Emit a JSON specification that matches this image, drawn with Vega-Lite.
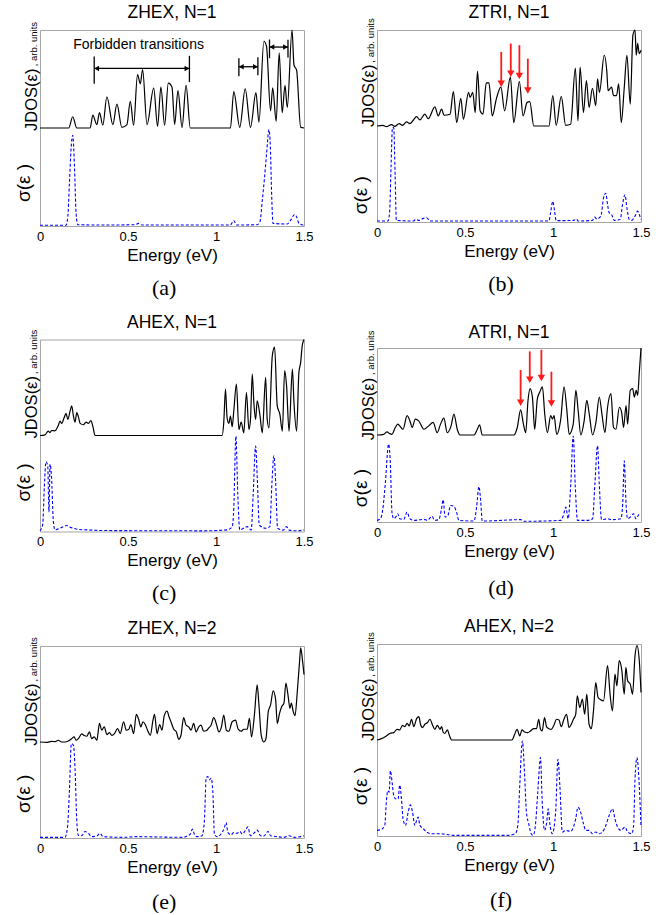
{
"$schema": "https://vega.github.io/schema/vega-lite/v6.json",
"padding": {"left": 14, "top": 3, "right": 0, "bottom": 0},
"background": "white",
"datasets": {
"aJ": [{"e":0,"v":1},{"e":0.152,"v":1},{"e":0.163,"v":1},{"e":0.186,"v":1.115},{"e":0.209,"v":1},{"e":0.285,"v":1},{"e":0.3,"v":1.132},{"e":0.323,"v":1.035},{"e":0.338,"v":1.156},{"e":0.357,"v":1.028},{"e":0.38,"v":1.319},{"e":0.414,"v":1.035},{"e":0.437,"v":1.243},{"e":0.465,"v":1.007},{"e":0.494,"v":1.035},{"e":0.513,"v":1.271},{"e":0.532,"v":1.028},{"e":0.554,"v":1.545},{"e":0.57,"v":1.451},{"e":0.583,"v":1.597},{"e":0.608,"v":1.035},{"e":0.646,"v":1.406},{"e":0.668,"v":1.017},{"e":0.687,"v":1.417},{"e":0.708,"v":1.028},{"e":0.729,"v":1.458},{"e":0.75,"v":1.417},{"e":0.765,"v":1.035},{"e":0.784,"v":1.382},{"e":0.807,"v":1.007},{"e":0.83,"v":1.434},{"e":0.854,"v":1},{"e":1.082,"v":1},{"e":1.101,"v":1.372},{"e":1.135,"v":1.007},{"e":1.166,"v":1.399},{"e":1.196,"v":1.007},{"e":1.227,"v":1.361},{"e":1.244,"v":1.059},{"e":1.272,"v":1.885},{"e":1.287,"v":1.833},{"e":1.31,"v":1.174},{"e":1.322,"v":1.41},{"e":1.342,"v":1.069},{"e":1.359,"v":1.767},{"e":1.376,"v":1.156},{"e":1.392,"v":1.434},{"e":1.405,"v":1.208},{"e":1.432,"v":2},{"e":1.443,"v":1.642},{"e":1.458,"v":1.59},{"e":1.481,"v":1.007},{"e":1.5,"v":1}],
"as": [{"e":0,"v":0.007},{"e":0.148,"v":0.007},{"e":0.158,"v":0.094},{"e":0.167,"v":0.43},{"e":0.177,"v":0.8},{"e":0.186,"v":0.926},{"e":0.196,"v":0.6},{"e":0.205,"v":0.13},{"e":0.215,"v":0.013},{"e":0.361,"v":0.01},{"e":0.541,"v":0.013},{"e":0.56,"v":0.027},{"e":0.579,"v":0.01},{"e":1.082,"v":0.01},{"e":1.101,"v":0.054},{"e":1.117,"v":0.01},{"e":1.234,"v":0.013},{"e":1.25,"v":0.044},{"e":1.263,"v":0.26},{"e":1.276,"v":0.5},{"e":1.287,"v":0.73},{"e":1.301,"v":0.983},{"e":1.309,"v":0.8},{"e":1.316,"v":0.33},{"e":1.324,"v":0.027},{"e":1.405,"v":0.02},{"e":1.424,"v":0.06},{"e":1.447,"v":0.117},{"e":1.458,"v":0.094},{"e":1.471,"v":0.027},{"e":1.5,"v":0.007}],
"bJ": [{"e":0,"v":1},{"e":0.034,"v":1.007},{"e":0.053,"v":0.993},{"e":0.082,"v":1.014},{"e":0.101,"v":0.996},{"e":0.126,"v":1.025},{"e":0.145,"v":1.007},{"e":0.168,"v":1.042},{"e":0.187,"v":1.025},{"e":0.206,"v":1.06},{"e":0.225,"v":1.098},{"e":0.244,"v":1.063},{"e":0.272,"v":1.123},{"e":0.291,"v":1.077},{"e":0.329,"v":1.2},{"e":0.348,"v":1.105},{"e":0.367,"v":1.175},{"e":0.381,"v":1.112},{"e":0.415,"v":1.123},{"e":0.434,"v":1.358},{"e":0.453,"v":1.035},{"e":0.476,"v":1.288},{"e":0.491,"v":1.07},{"e":0.52,"v":1.351},{"e":0.529,"v":1.298},{"e":0.544,"v":1.351},{"e":0.558,"v":1.14},{"e":0.571,"v":1.568},{"e":0.586,"v":1.158},{"e":0.602,"v":1.123},{"e":0.621,"v":1.449},{"e":0.636,"v":1.449},{"e":0.655,"v":1.105},{"e":0.678,"v":1.281},{"e":0.704,"v":1.404},{"e":0.725,"v":1.158},{"e":0.758,"v":1.509},{"e":0.777,"v":1.035},{"e":0.809,"v":1.463},{"e":0.83,"v":1.105},{"e":0.853,"v":1.246},{"e":0.868,"v":1.253},{"e":0.891,"v":1},{"e":0.977,"v":1},{"e":0.999,"v":1.316},{"e":1.018,"v":1.007},{"e":1.047,"v":1.309},{"e":1.072,"v":1.007},{"e":1.1,"v":1.018},{"e":1.127,"v":1.604},{"e":1.142,"v":1.053},{"e":1.154,"v":1.614},{"e":1.173,"v":1.14},{"e":1.19,"v":1.474},{"e":1.205,"v":1.193},{"e":1.224,"v":1.393},{"e":1.243,"v":1.211},{"e":1.253,"v":1.491},{"e":1.264,"v":1.351},{"e":1.291,"v":1.737},{"e":1.306,"v":1.561},{"e":1.313,"v":1.368},{"e":1.333,"v":1.404},{"e":1.344,"v":1.316},{"e":1.361,"v":1.316},{"e":1.373,"v":1.439},{"e":1.388,"v":1.035},{"e":1.405,"v":1.404},{"e":1.42,"v":1.737},{"e":1.439,"v":1.228},{"e":1.454,"v":1.947},{"e":1.466,"v":2},{"e":1.473,"v":1.737},{"e":1.481,"v":1.86},{"e":1.49,"v":1.754},{"e":1.5,"v":1.789}],
"bs": [{"e":0,"v":0.01},{"e":0.063,"v":0.01},{"e":0.072,"v":0.113},{"e":0.08,"v":0.59},{"e":0.088,"v":0.983},{"e":0.095,"v":0.983},{"e":0.103,"v":0.488},{"e":0.11,"v":0.017},{"e":0.206,"v":0.01},{"e":0.221,"v":0.027},{"e":0.24,"v":0.017},{"e":0.263,"v":0.038},{"e":0.282,"v":0.044},{"e":0.301,"v":0.01},{"e":0.977,"v":0.01},{"e":0.986,"v":0.096},{"e":0.999,"v":0.215},{"e":1.009,"v":0.113},{"e":1.018,"v":0.014},{"e":1.119,"v":0.017},{"e":1.133,"v":0.031},{"e":1.142,"v":0.01},{"e":1.224,"v":0.017},{"e":1.237,"v":0.051},{"e":1.249,"v":0.031},{"e":1.272,"v":0.061},{"e":1.287,"v":0.249},{"e":1.3,"v":0.3},{"e":1.31,"v":0.181},{"e":1.319,"v":0.096},{"e":1.333,"v":0.078},{"e":1.348,"v":0.017},{"e":1.382,"v":0.027},{"e":1.395,"v":0.181},{"e":1.409,"v":0.283},{"e":1.42,"v":0.147},{"e":1.433,"v":0.027},{"e":1.447,"v":0.017},{"e":1.466,"v":0.061},{"e":1.481,"v":0.113},{"e":1.49,"v":0.078},{"e":1.5,"v":0.027}],
"cJ": [{"e":0,"v":1},{"e":0.028,"v":1.007},{"e":0.047,"v":1.045},{"e":0.057,"v":1.031},{"e":0.066,"v":1.052},{"e":0.085,"v":1.049},{"e":0.104,"v":1.105},{"e":0.114,"v":1.15},{"e":0.123,"v":1.126},{"e":0.137,"v":1.185},{"e":0.148,"v":1.231},{"e":0.158,"v":1.168},{"e":0.171,"v":1.255},{"e":0.18,"v":1.308},{"e":0.19,"v":1.203},{"e":0.199,"v":1.14},{"e":0.209,"v":1.238},{"e":0.218,"v":1.196},{"e":0.228,"v":1.126},{"e":0.247,"v":1.112},{"e":0.262,"v":1.14},{"e":0.275,"v":1.126},{"e":0.289,"v":1.154},{"e":0.3,"v":1.098},{"e":0.313,"v":1},{"e":1.035,"v":1},{"e":1.044,"v":1.133},{"e":1.054,"v":1.483},{"e":1.063,"v":1.185},{"e":1.073,"v":1.126},{"e":1.082,"v":1.203},{"e":1.092,"v":1.091},{"e":1.101,"v":1.255},{"e":1.116,"v":1.535},{"e":1.13,"v":1.063},{"e":1.143,"v":1.14},{"e":1.158,"v":1.028},{"e":1.173,"v":1.448},{"e":1.187,"v":1.063},{"e":1.196,"v":1.168},{"e":1.206,"v":1.64},{"e":1.215,"v":1.343},{"e":1.225,"v":1.168},{"e":1.234,"v":1.36},{"e":1.249,"v":1.22},{"e":1.263,"v":1.028},{"e":1.282,"v":1.605},{"e":1.291,"v":1.168},{"e":1.301,"v":1.08},{"e":1.32,"v":1.832},{"e":1.333,"v":1.92},{"e":1.348,"v":1.308},{"e":1.363,"v":1.22},{"e":1.377,"v":1.045},{"e":1.39,"v":1.675},{"e":1.401,"v":1.517},{"e":1.415,"v":1.045},{"e":1.434,"v":1.692},{"e":1.443,"v":1.343},{"e":1.458,"v":1.045},{"e":1.471,"v":1.657},{"e":1.481,"v":1.762},{"e":1.49,"v":1.937},{"e":1.5,"v":2}],
"cs": [{"e":0,"v":0.007},{"e":0.015,"v":0.068},{"e":0.025,"v":0.479},{"e":0.034,"v":0.726},{"e":0.044,"v":0.685},{"e":0.051,"v":0.205},{"e":0.057,"v":0.702},{"e":0.065,"v":0.582},{"e":0.076,"v":0.103},{"e":0.085,"v":0.017},{"e":0.114,"v":0.034},{"e":0.133,"v":0.051},{"e":0.152,"v":0.062},{"e":0.171,"v":0.045},{"e":0.19,"v":0.034},{"e":0.218,"v":0.021},{"e":0.266,"v":0.017},{"e":0.361,"v":0.01},{"e":0.93,"v":0.007},{"e":1.063,"v":0.017},{"e":1.092,"v":0.051},{"e":1.101,"v":0.24},{"e":1.113,"v":0.993},{"e":1.124,"v":0.377},{"e":1.135,"v":0.017},{"e":1.177,"v":0.051},{"e":1.2,"v":0.017},{"e":1.211,"v":0.377},{"e":1.225,"v":0.89},{"e":1.234,"v":0.582},{"e":1.246,"v":0.068},{"e":1.282,"v":0.034},{"e":1.306,"v":0.051},{"e":1.318,"v":0.514},{"e":1.329,"v":0.788},{"e":1.339,"v":0.514},{"e":1.35,"v":0.034},{"e":1.382,"v":0.014},{"e":1.401,"v":0.051},{"e":1.416,"v":0.014},{"e":1.462,"v":0.007},{"e":1.5,"v":0.017}],
"dJ": [{"e":0,"v":1},{"e":0.038,"v":1.008},{"e":0.057,"v":1.035},{"e":0.072,"v":1.016},{"e":0.085,"v":1.008},{"e":0.104,"v":1.086},{"e":0.118,"v":1.125},{"e":0.129,"v":1.105},{"e":0.148,"v":1.066},{"e":0.171,"v":1.222},{"e":0.19,"v":1.144},{"e":0.199,"v":1.086},{"e":0.218,"v":1.183},{"e":0.237,"v":1.163},{"e":0.266,"v":1.066},{"e":0.294,"v":1.105},{"e":0.319,"v":1.144},{"e":0.342,"v":1.027},{"e":0.361,"v":1.125},{"e":0.38,"v":1.195},{"e":0.399,"v":1.027},{"e":0.421,"v":1.105},{"e":0.437,"v":1.241},{"e":0.456,"v":1.066},{"e":0.471,"v":1},{"e":0.551,"v":1},{"e":0.57,"v":1.066},{"e":0.583,"v":1.117},{"e":0.598,"v":1},{"e":0.778,"v":1},{"e":0.797,"v":1.086},{"e":0.816,"v":1.288},{"e":0.832,"v":1.125},{"e":0.845,"v":1.027},{"e":0.858,"v":1.397},{"e":0.87,"v":1.533},{"e":0.883,"v":1.436},{"e":0.896,"v":1.066},{"e":0.911,"v":1.416},{"e":0.925,"v":1.494},{"e":0.94,"v":1.553},{"e":0.953,"v":1.241},{"e":0.968,"v":1.027},{"e":0.987,"v":1.222},{"e":0.997,"v":1.183},{"e":1.006,"v":1.222},{"e":1.021,"v":1.008},{"e":1.044,"v":1.183},{"e":1.063,"v":1.553},{"e":1.078,"v":1.3},{"e":1.092,"v":1.008},{"e":1.115,"v":1.125},{"e":1.13,"v":1.514},{"e":1.143,"v":1.28},{"e":1.158,"v":1},{"e":1.177,"v":1.163},{"e":1.192,"v":1.397},{"e":1.206,"v":1.241},{"e":1.225,"v":1},{"e":1.244,"v":1.144},{"e":1.263,"v":1.436},{"e":1.278,"v":1.241},{"e":1.295,"v":1.027},{"e":1.31,"v":1.319},{"e":1.329,"v":1.475},{"e":1.344,"v":1.086},{"e":1.358,"v":1.066},{"e":1.377,"v":1.319},{"e":1.39,"v":1.261},{"e":1.401,"v":1.086},{"e":1.415,"v":1.339},{"e":1.424,"v":1.125},{"e":1.439,"v":1.514},{"e":1.453,"v":1.533},{"e":1.462,"v":1.436},{"e":1.473,"v":1.514},{"e":1.481,"v":1.455},{"e":1.49,"v":1.708},{"e":1.5,"v":2}],
"ds": [{"e":0,"v":0.019},{"e":0.019,"v":0.038},{"e":0.032,"v":0.133},{"e":0.047,"v":0.437},{"e":0.066,"v":0.894},{"e":0.076,"v":0.665},{"e":0.085,"v":0.114},{"e":0.095,"v":0.038},{"e":0.11,"v":0.068},{"e":0.118,"v":0.095},{"e":0.129,"v":0.038},{"e":0.152,"v":0.03},{"e":0.171,"v":0.114},{"e":0.186,"v":0.038},{"e":0.209,"v":0.019},{"e":0.266,"v":0.03},{"e":0.285,"v":0.019},{"e":0.313,"v":0.065},{"e":0.327,"v":0.019},{"e":0.351,"v":0.027},{"e":0.365,"v":0.133},{"e":0.376,"v":0.255},{"e":0.387,"v":0.057},{"e":0.403,"v":0.076},{"e":0.418,"v":0.19},{"e":0.437,"v":0.179},{"e":0.452,"v":0.114},{"e":0.465,"v":0.019},{"e":0.551,"v":0.011},{"e":0.566,"v":0.171},{"e":0.579,"v":0.407},{"e":0.589,"v":0.247},{"e":0.598,"v":0.011},{"e":0.816,"v":0.027},{"e":0.835,"v":0.008},{"e":1.044,"v":0.019},{"e":1.059,"v":0.076},{"e":1.073,"v":0.171},{"e":1.086,"v":0.038},{"e":1.101,"v":0.437},{"e":1.115,"v":0.989},{"e":1.126,"v":0.437},{"e":1.139,"v":0.019},{"e":1.196,"v":0.019},{"e":1.225,"v":0.038},{"e":1.238,"v":0.437},{"e":1.253,"v":0.875},{"e":1.263,"v":0.437},{"e":1.276,"v":0.027},{"e":1.31,"v":0.038},{"e":1.333,"v":0.027},{"e":1.386,"v":0.038},{"e":1.396,"v":0.209},{"e":1.405,"v":0.703},{"e":1.415,"v":0.209},{"e":1.424,"v":0.038},{"e":1.443,"v":0.065},{"e":1.458,"v":0.095},{"e":1.471,"v":0.038},{"e":1.49,"v":0.087},{"e":1.5,"v":0.076}],
"eJ": [{"e":0,"v":1},{"e":0.038,"v":0.996},{"e":0.066,"v":1.007},{"e":0.085,"v":1.004},{"e":0.104,"v":1.018},{"e":0.123,"v":1},{"e":0.142,"v":1},{"e":0.161,"v":1.011},{"e":0.18,"v":1.035},{"e":0.194,"v":1.053},{"e":0.205,"v":1.018},{"e":0.218,"v":1.035},{"e":0.237,"v":1.084},{"e":0.251,"v":1.067},{"e":0.266,"v":1.06},{"e":0.281,"v":1.105},{"e":0.294,"v":1.035},{"e":0.308,"v":1.053},{"e":0.323,"v":1.018},{"e":0.338,"v":1.193},{"e":0.351,"v":1.123},{"e":0.365,"v":1.158},{"e":0.38,"v":1.077},{"e":0.395,"v":1.098},{"e":0.408,"v":1.07},{"e":0.423,"v":1.088},{"e":0.441,"v":1.14},{"e":0.456,"v":1.088},{"e":0.475,"v":1.211},{"e":0.49,"v":1.123},{"e":0.505,"v":1.133},{"e":0.516,"v":1.182},{"e":0.532,"v":1.088},{"e":0.547,"v":1.288},{"e":0.56,"v":1.239},{"e":0.573,"v":1.158},{"e":0.585,"v":1.211},{"e":0.598,"v":1.182},{"e":0.611,"v":1.123},{"e":0.627,"v":1.07},{"e":0.642,"v":1.228},{"e":0.651,"v":1.288},{"e":0.665,"v":1.088},{"e":0.68,"v":1.182},{"e":0.693,"v":1.123},{"e":0.706,"v":1.274},{"e":0.722,"v":1.323},{"e":0.733,"v":1.263},{"e":0.744,"v":1.211},{"e":0.76,"v":1.133},{"e":0.775,"v":1.105},{"e":0.788,"v":1.028},{"e":0.801,"v":1.07},{"e":0.816,"v":1.253},{"e":0.83,"v":1.175},{"e":0.845,"v":1.158},{"e":0.858,"v":1.123},{"e":0.873,"v":1.193},{"e":0.887,"v":1.105},{"e":0.902,"v":1.158},{"e":0.915,"v":1.175},{"e":0.93,"v":1.112},{"e":0.946,"v":1.119},{"e":0.959,"v":1.147},{"e":0.972,"v":1.175},{"e":0.987,"v":1.253},{"e":1.003,"v":1.182},{"e":1.016,"v":1.105},{"e":1.031,"v":1.158},{"e":1.044,"v":1.281},{"e":1.059,"v":1.123},{"e":1.073,"v":1.112},{"e":1.092,"v":1.211},{"e":1.111,"v":1.228},{"e":1.126,"v":1.133},{"e":1.143,"v":1.112},{"e":1.158,"v":1.133},{"e":1.177,"v":1.133},{"e":1.19,"v":1.246},{"e":1.202,"v":1.053},{"e":1.219,"v":1.298},{"e":1.234,"v":1.596},{"e":1.244,"v":1.386},{"e":1.257,"v":1.07},{"e":1.272,"v":1},{"e":1.284,"v":1.035},{"e":1.297,"v":1.316},{"e":1.31,"v":1.386},{"e":1.325,"v":1.533},{"e":1.339,"v":1.439},{"e":1.348,"v":1.193},{"e":1.361,"v":1.298},{"e":1.373,"v":1.368},{"e":1.386,"v":1.404},{"e":1.397,"v":1.614},{"e":1.409,"v":1.491},{"e":1.42,"v":1.351},{"e":1.428,"v":1.404},{"e":1.439,"v":1.316},{"e":1.449,"v":1.274},{"e":1.462,"v":1.526},{"e":1.475,"v":1.842},{"e":1.481,"v":1.982},{"e":1.492,"v":1.842},{"e":1.5,"v":1.702}],
"es": [{"e":0,"v":0.007},{"e":0.142,"v":0.007},{"e":0.156,"v":0.11},{"e":0.167,"v":0.486},{"e":0.178,"v":0.983},{"e":0.19,"v":0.966},{"e":0.199,"v":0.726},{"e":0.209,"v":0.178},{"e":0.218,"v":0.027},{"e":0.237,"v":0.024},{"e":0.256,"v":0.068},{"e":0.275,"v":0.048},{"e":0.294,"v":0.014},{"e":0.323,"v":0.021},{"e":0.342,"v":0.048},{"e":0.357,"v":0.014},{"e":0.475,"v":0.007},{"e":0.551,"v":0.014},{"e":0.816,"v":0.007},{"e":0.839,"v":0.024},{"e":0.854,"v":0.041},{"e":0.866,"v":0.092},{"e":0.877,"v":0.041},{"e":0.892,"v":0.014},{"e":0.921,"v":0.024},{"e":0.934,"v":0.178},{"e":0.944,"v":0.623},{"e":0.953,"v":0.64},{"e":0.963,"v":0.606},{"e":0.972,"v":0.623},{"e":0.982,"v":0.486},{"e":0.991,"v":0.041},{"e":1.006,"v":0.014},{"e":1.035,"v":0.058},{"e":1.048,"v":0.11},{"e":1.058,"v":0.161},{"e":1.067,"v":0.058},{"e":1.086,"v":0.034},{"e":1.101,"v":0.058},{"e":1.12,"v":0.048},{"e":1.135,"v":0.068},{"e":1.149,"v":0.041},{"e":1.168,"v":0.082},{"e":1.181,"v":0.116},{"e":1.196,"v":0.024},{"e":1.215,"v":0.048},{"e":1.234,"v":0.082},{"e":1.253,"v":0.024},{"e":1.272,"v":0.021},{"e":1.295,"v":0.068},{"e":1.31,"v":0.024},{"e":1.348,"v":0.014},{"e":1.386,"v":0.007},{"e":1.415,"v":0.024},{"e":1.443,"v":0.007},{"e":1.481,"v":0.014},{"e":1.5,"v":0.024}],
"fJ": [{"e":0,"v":1},{"e":0.025,"v":1.014},{"e":0.053,"v":1.042},{"e":0.076,"v":1.07},{"e":0.095,"v":1.077},{"e":0.114,"v":1.111},{"e":0.129,"v":1.105},{"e":0.145,"v":1.153},{"e":0.158,"v":1.139},{"e":0.171,"v":1.174},{"e":0.183,"v":1.146},{"e":0.196,"v":1.216},{"e":0.209,"v":1.139},{"e":0.225,"v":1.223},{"e":0.238,"v":1.244},{"e":0.247,"v":1.164},{"e":0.259,"v":1.129},{"e":0.272,"v":1.164},{"e":0.287,"v":1.181},{"e":0.301,"v":1.216},{"e":0.316,"v":1.153},{"e":0.329,"v":1.111},{"e":0.343,"v":1.153},{"e":0.358,"v":1.111},{"e":0.367,"v":1.139},{"e":0.377,"v":1.077},{"e":0.386,"v":1.07},{"e":0.4,"v":1.105},{"e":0.411,"v":1.049},{"e":0.425,"v":1},{"e":0.767,"v":1},{"e":0.78,"v":1.049},{"e":0.796,"v":1.111},{"e":0.811,"v":1.042},{"e":0.824,"v":1.105},{"e":0.838,"v":1.084},{"e":0.857,"v":1.077},{"e":0.872,"v":1.094},{"e":0.891,"v":1.118},{"e":0.906,"v":1.118},{"e":0.919,"v":1.216},{"e":0.929,"v":1.111},{"e":0.938,"v":1.094},{"e":0.952,"v":1.233},{"e":0.963,"v":1.139},{"e":0.977,"v":1.118},{"e":0.99,"v":1.111},{"e":1.005,"v":1.153},{"e":1.02,"v":1.216},{"e":1.034,"v":1.209},{"e":1.047,"v":1.139},{"e":1.062,"v":1.216},{"e":1.077,"v":1.268},{"e":1.091,"v":1.129},{"e":1.104,"v":1.164},{"e":1.116,"v":1.216},{"e":1.129,"v":1.268},{"e":1.138,"v":1.46},{"e":1.152,"v":1.338},{"e":1.167,"v":1.425},{"e":1.18,"v":1.268},{"e":1.192,"v":1.477},{"e":1.205,"v":1.164},{"e":1.218,"v":1.118},{"e":1.23,"v":1.303},{"e":1.243,"v":1.599},{"e":1.256,"v":1.443},{"e":1.272,"v":1.418},{"e":1.287,"v":1.408},{"e":1.31,"v":1.774},{"e":1.325,"v":1.46},{"e":1.338,"v":1.303},{"e":1.352,"v":1.686},{"e":1.363,"v":1.564},{"e":1.376,"v":1.826},{"e":1.39,"v":1.739},{"e":1.405,"v":1.477},{"e":1.414,"v":1.756},{"e":1.424,"v":1.617},{"e":1.439,"v":1.582},{"e":1.452,"v":1.477},{"e":1.466,"v":1.878},{"e":1.477,"v":1.983},{"e":1.491,"v":1.808},{"e":1.5,"v":1.495}],
"fs": [{"e":0,"v":0.059},{"e":0.025,"v":0.069},{"e":0.044,"v":0.11},{"e":0.053,"v":0.352},{"e":0.061,"v":0.472},{"e":0.069,"v":0.455},{"e":0.076,"v":0.679},{"e":0.088,"v":0.524},{"e":0.095,"v":0.421},{"e":0.107,"v":0.386},{"e":0.12,"v":0.386},{"e":0.129,"v":0.531},{"e":0.139,"v":0.386},{"e":0.148,"v":0.179},{"e":0.162,"v":0.11},{"e":0.177,"v":0.248},{"e":0.19,"v":0.324},{"e":0.202,"v":0.248},{"e":0.215,"v":0.11},{"e":0.225,"v":0.162},{"e":0.234,"v":0.197},{"e":0.244,"v":0.11},{"e":0.263,"v":0.076},{"e":0.282,"v":0.041},{"e":0.31,"v":0.024},{"e":0.358,"v":0.024},{"e":0.434,"v":0.007},{"e":0.739,"v":0.007},{"e":0.786,"v":0.024},{"e":0.8,"v":0.11},{"e":0.811,"v":0.524},{"e":0.826,"v":0.99},{"e":0.838,"v":0.662},{"e":0.849,"v":0.248},{"e":0.862,"v":0.128},{"e":0.876,"v":0.024},{"e":0.887,"v":0.007},{"e":0.9,"v":0.11},{"e":0.914,"v":0.472},{"e":0.929,"v":0.817},{"e":0.938,"v":0.386},{"e":0.952,"v":0.059},{"e":0.963,"v":0.128},{"e":0.973,"v":0.283},{"e":0.982,"v":0.128},{"e":0.996,"v":0.024},{"e":1.015,"v":0.248},{"e":1.028,"v":0.8},{"e":1.039,"v":0.524},{"e":1.053,"v":0.041},{"e":1.072,"v":0.059},{"e":1.1,"v":0.048},{"e":1.116,"v":0.093},{"e":1.129,"v":0.179},{"e":1.142,"v":0.3},{"e":1.157,"v":0.248},{"e":1.173,"v":0.128},{"e":1.186,"v":0.059},{"e":1.205,"v":0.059},{"e":1.224,"v":0.024},{"e":1.243,"v":0.041},{"e":1.262,"v":0.024},{"e":1.281,"v":0.041},{"e":1.3,"v":0.11},{"e":1.319,"v":0.214},{"e":1.338,"v":0.283},{"e":1.352,"v":0.179},{"e":1.367,"v":0.093},{"e":1.386,"v":0.059},{"e":1.409,"v":0.093},{"e":1.424,"v":0.041},{"e":1.447,"v":0.024},{"e":1.458,"v":0.11},{"e":1.466,"v":0.593},{"e":1.477,"v":0.817},{"e":1.491,"v":0.49},{"e":1.5,"v":0.093}],
"aLines": [{"e":0.308,"e2":0.849,"v":1.608,"v2":1.608},{"e":1.13,"e2":1.238,"v":1.625,"v2":1.625},{"e":1.304,"e2":1.409,"v":1.826,"v2":1.826},{"e":0.308,"e2":0.308,"v":1.451,"v2":1.729},{"e":0.849,"e2":0.849,"v":1.469,"v2":1.736},{"e":1.13,"e2":1.13,"v":1.528,"v2":1.712},{"e":1.238,"e2":1.238,"v":1.538,"v2":1.722},{"e":1.304,"e2":1.304,"v":1.712,"v2":1.903},{"e":1.409,"e2":1.409,"v":1.72,"v2":1.9}],
"aHeads": [{"e":0.322,"v":1.608,"d":"L"},{"e":0.835,"v":1.608,"d":"R"},{"e":1.144,"v":1.625,"d":"L"},{"e":1.224,"v":1.625,"d":"R"},{"e":1.318,"v":1.826,"d":"L"},{"e":1.395,"v":1.826,"d":"R"}],
"bArrows": [{"e":0.706,"v":1.772,"v2":1.45,"h":1.44},{"e":0.76,"v":1.86,"v2":1.555,"h":1.545},{"e":0.809,"v":1.842,"v2":1.53,"h":1.52},{"e":0.857,"v":1.702,"v2":1.38,"h":1.37}],
"dArrows": [{"e":0.816,"v":1.747,"v2":1.38,"h":1.37},{"e":0.868,"v":1.961,"v2":1.645,"h":1.635},{"e":0.934,"v":1.98,"v2":1.665,"h":1.655},{"e":0.991,"v":1.728,"v2":1.372,"h":1.362}]
},
"hconcat": [
 {"vconcat": [
  {"title": {"text": "(a)", "orient": "bottom", "anchor": "middle", "font": "Liberation Serif", "fontSize": 22, "offset": 14},
   "vconcat": [{
    "width": 264, "height": 196, "title": {"text": "ZHEX, N=1", "offset": 0},
    "encoding": {"x": {"type": "quantitative", "scale": {"domain": [0, 1.5]}, "axis": {"values": [0, 0.5, 1, 1.5], "labelExpr": "'' + datum.value"}, "title": "Energy (eV)"},
                 "y": {"type": "quantitative", "scale": {"domain": [0, 2]}, "axis": null}},
    "layer": [
     {"data": {"name": "aJ"}, "mark": {"type": "line", "color": "black", "strokeWidth": 1.2, "interpolate": "monotone"}, "encoding": {"x": {"field": "e"}, "y": {"field": "v"}}},
     {"data": {"name": "as"}, "mark": {"type": "line", "color": "#0000ff", "strokeWidth": 1.1, "strokeDash": [3, 2], "interpolate": "monotone"}, "encoding": {"x": {"field": "e"}, "y": {"field": "v"}}},
     {"data": {"name": "aLines"}, "mark": {"type": "rule", "color": "black", "strokeWidth": 1.3}, "encoding": {"x": {"field": "e"}, "y": {"field": "v"}, "x2": {"field": "e2"}, "y2": {"field": "v2"}}},
     {"data": {"name": "aHeads"}, "mark": {"type": "point", "filled": true, "opacity": 1, "color": "black", "size": 30}, "encoding": {"x": {"field": "e"}, "y": {"field": "v"}, "shape": {"field": "d", "type": "nominal", "scale": {"domain": ["L", "R"], "range": ["triangle-left", "triangle-right"]}, "legend": null}}},
     {"data": {"values": [{}]}, "mark": {"type": "text", "text": "Forbidden transitions", "fontSize": 14, "align": "center", "baseline": "middle"}, "encoding": {"x": {"datum": 0.56}, "y": {"datum": 1.85}}},
     {"data": {"values": [{}]}, "mark": {"type": "text", "text": "JDOS(ε)", "angle": 270, "align": "left", "baseline": "alphabetic", "fontSize": 16.5}, "encoding": {"x": {"datum": -0.017}, "y": {"datum": 0.97}}},
     {"data": {"values": [{}]}, "mark": {"type": "text", "text": ", arb. units", "angle": 270, "align": "left", "baseline": "alphabetic", "fontSize": 9.5}, "encoding": {"x": {"datum": -0.017}, "y": {"datum": 1.63}}},
     {"data": {"values": [{}]}, "mark": {"type": "text", "text": "σ(ε )", "angle": 270, "align": "center", "baseline": "middle", "fontSize": 19}, "encoding": {"x": {"datum": -0.09}, "y": {"datum": 0.44}}}
    ]}]},
  {"title": {"text": "(c)", "orient": "bottom", "anchor": "middle", "font": "Liberation Serif", "fontSize": 22, "offset": 14},
   "vconcat": [{
    "width": 264, "height": 192, "title": {"text": "AHEX, N=1", "offset": -2},
    "encoding": {"x": {"type": "quantitative", "scale": {"domain": [0, 1.5]}, "axis": {"values": [0, 0.5, 1, 1.5], "labelExpr": "'' + datum.value"}, "title": "Energy (eV)"},
                 "y": {"type": "quantitative", "scale": {"domain": [0, 2]}, "axis": null}},
    "layer": [
     {"data": {"name": "cJ"}, "mark": {"type": "line", "color": "black", "strokeWidth": 1.2, "interpolate": "monotone"}, "encoding": {"x": {"field": "e"}, "y": {"field": "v"}}},
     {"data": {"name": "cs"}, "mark": {"type": "line", "color": "#0000ff", "strokeWidth": 1.1, "strokeDash": [3, 2], "interpolate": "monotone"}, "encoding": {"x": {"field": "e"}, "y": {"field": "v"}}},
     {"data": {"values": [{}]}, "mark": {"type": "text", "text": "JDOS(ε)", "angle": 270, "align": "left", "baseline": "alphabetic", "fontSize": 16.5}, "encoding": {"x": {"datum": -0.017}, "y": {"datum": 0.97}}},
     {"data": {"values": [{}]}, "mark": {"type": "text", "text": ", arb. units", "angle": 270, "align": "left", "baseline": "alphabetic", "fontSize": 9.5}, "encoding": {"x": {"datum": -0.017}, "y": {"datum": 1.64}}},
     {"data": {"values": [{}]}, "mark": {"type": "text", "text": "σ(ε )", "angle": 270, "align": "center", "baseline": "middle", "fontSize": 19}, "encoding": {"x": {"datum": -0.09}, "y": {"datum": 0.51}}}
    ]}]},
  {"title": {"text": "(e)", "orient": "bottom", "anchor": "middle", "font": "Liberation Serif", "fontSize": 22, "offset": 16},
   "vconcat": [{
    "width": 264, "height": 192, "title": {"text": "ZHEX, N=2", "offset": 0},
    "encoding": {"x": {"type": "quantitative", "scale": {"domain": [0, 1.5]}, "axis": {"values": [0, 0.5, 1, 1.5], "labelExpr": "'' + datum.value"}, "title": "Energy (eV)"},
                 "y": {"type": "quantitative", "scale": {"domain": [0, 2]}, "axis": null}},
    "layer": [
     {"data": {"name": "eJ"}, "mark": {"type": "line", "color": "black", "strokeWidth": 1.2, "interpolate": "monotone"}, "encoding": {"x": {"field": "e"}, "y": {"field": "v"}}},
     {"data": {"name": "es"}, "mark": {"type": "line", "color": "#0000ff", "strokeWidth": 1.1, "strokeDash": [3, 2], "interpolate": "monotone"}, "encoding": {"x": {"field": "e"}, "y": {"field": "v"}}},
     {"data": {"values": [{}]}, "mark": {"type": "text", "text": "JDOS(ε)", "angle": 270, "align": "left", "baseline": "alphabetic", "fontSize": 16.5}, "encoding": {"x": {"datum": -0.017}, "y": {"datum": 0.96}}},
     {"data": {"values": [{}]}, "mark": {"type": "text", "text": ", arb. units", "angle": 270, "align": "left", "baseline": "alphabetic", "fontSize": 9.5}, "encoding": {"x": {"datum": -0.017}, "y": {"datum": 1.63}}},
     {"data": {"values": [{}]}, "mark": {"type": "text", "text": "σ(ε )", "angle": 270, "align": "center", "baseline": "middle", "fontSize": 19}, "encoding": {"x": {"datum": -0.09}, "y": {"datum": 0.46}}}
    ]}]}
 ], "spacing": 14.5},
 {"vconcat": [
  {"title": {"text": "(b)", "orient": "bottom", "anchor": "middle", "font": "Liberation Serif", "fontSize": 22, "offset": 14},
   "vconcat": [{
    "width": 264, "height": 192, "title": {"text": "ZTRI, N=1", "offset": -3},
    "encoding": {"x": {"type": "quantitative", "scale": {"domain": [0, 1.5]}, "axis": {"values": [0, 0.5, 1, 1.5], "labelExpr": "'' + datum.value"}, "title": "Energy (eV)"},
                 "y": {"type": "quantitative", "scale": {"domain": [0, 2]}, "axis": null}},
    "layer": [
     {"data": {"name": "bJ"}, "mark": {"type": "line", "color": "black", "strokeWidth": 1.2, "interpolate": "monotone"}, "encoding": {"x": {"field": "e"}, "y": {"field": "v"}}},
     {"data": {"name": "bs"}, "mark": {"type": "line", "color": "#0000ff", "strokeWidth": 1.1, "strokeDash": [3, 2], "interpolate": "monotone"}, "encoding": {"x": {"field": "e"}, "y": {"field": "v"}}},
     {"data": {"name": "bArrows"}, "mark": {"type": "rule", "color": "#ff1a1a", "strokeWidth": 1.8}, "encoding": {"x": {"field": "e"}, "y": {"field": "v"}, "y2": {"field": "v2"}}},
     {"data": {"name": "bArrows"}, "mark": {"type": "point", "shape": "triangle-down", "filled": true, "opacity": 1, "color": "#ff1a1a", "size": 55}, "encoding": {"x": {"field": "e"}, "y": {"field": "h"}}},
     {"data": {"values": [{}]}, "mark": {"type": "text", "text": "JDOS(ε)", "angle": 270, "align": "left", "baseline": "alphabetic", "fontSize": 16.5}, "encoding": {"x": {"datum": -0.017}, "y": {"datum": 0.99}}},
     {"data": {"values": [{}]}, "mark": {"type": "text", "text": ", arb. units", "angle": 270, "align": "left", "baseline": "alphabetic", "fontSize": 9.5}, "encoding": {"x": {"datum": -0.017}, "y": {"datum": 1.66}}},
     {"data": {"values": [{}]}, "mark": {"type": "text", "text": "σ(ε )", "angle": 270, "align": "center", "baseline": "middle", "fontSize": 19}, "encoding": {"x": {"datum": -0.09}, "y": {"datum": 0.28}}}
    ]}]},
  {"vconcat": [
   {"title": {"text": "(d)", "orient": "bottom", "anchor": "middle", "font": "Liberation Serif", "fontSize": 22, "offset": 18},
    "vconcat": [{
     "width": 264, "height": 174, "title": {"text": "ATRI, N=1", "offset": -10.6},
     "encoding": {"x": {"type": "quantitative", "scale": {"domain": [0, 1.5]}, "axis": {"values": [0, 0.5, 1, 1.5], "labelExpr": "'' + datum.value"}, "title": "Energy (eV)"},
                  "y": {"type": "quantitative", "scale": {"domain": [0, 2]}, "axis": null}},
     "layer": [
      {"data": {"name": "dJ"}, "mark": {"type": "line", "color": "black", "strokeWidth": 1.2, "interpolate": "monotone"}, "encoding": {"x": {"field": "e"}, "y": {"field": "v"}}},
      {"data": {"name": "ds"}, "mark": {"type": "line", "color": "#0000ff", "strokeWidth": 1.1, "strokeDash": [3, 2], "interpolate": "monotone"}, "encoding": {"x": {"field": "e"}, "y": {"field": "v"}}},
      {"data": {"name": "dArrows"}, "mark": {"type": "rule", "color": "#ff1a1a", "strokeWidth": 1.8}, "encoding": {"x": {"field": "e"}, "y": {"field": "v"}, "y2": {"field": "v2"}}},
      {"data": {"name": "dArrows"}, "mark": {"type": "point", "shape": "triangle-down", "filled": true, "opacity": 1, "color": "#ff1a1a", "size": 55}, "encoding": {"x": {"field": "e"}, "y": {"field": "h"}}},
      {"data": {"values": [{}]}, "mark": {"type": "text", "text": "JDOS(ε)", "angle": 270, "align": "left", "baseline": "alphabetic", "fontSize": 16.5}, "encoding": {"x": {"datum": -0.017}, "y": {"datum": 0.94}}},
      {"data": {"values": [{}]}, "mark": {"type": "text", "text": ", arb. units", "angle": 270, "align": "left", "baseline": "alphabetic", "fontSize": 9.5}, "encoding": {"x": {"datum": -0.017}, "y": {"datum": 1.69}}},
      {"data": {"values": [{}]}, "mark": {"type": "text", "text": "σ(ε )", "angle": 270, "align": "center", "baseline": "middle", "fontSize": 19}, "encoding": {"x": {"datum": -0.09}, "y": {"datum": 0.39}}}
     ]}]},
   {"title": {"text": "(f)", "orient": "bottom", "anchor": "middle", "font": "Liberation Serif", "fontSize": 22, "offset": 16},
    "vconcat": [{
     "width": 264, "height": 192, "title": {"text": "AHEX, N=2", "offset": -3},
     "encoding": {"x": {"type": "quantitative", "scale": {"domain": [0, 1.5]}, "axis": {"values": [0, 0.5, 1, 1.5], "labelExpr": "'' + datum.value"}, "title": "Energy (eV)"},
                  "y": {"type": "quantitative", "scale": {"domain": [0, 2]}, "axis": null}},
     "layer": [
      {"data": {"name": "fJ"}, "mark": {"type": "line", "color": "black", "strokeWidth": 1.2, "interpolate": "monotone"}, "encoding": {"x": {"field": "e"}, "y": {"field": "v"}}},
      {"data": {"name": "fs"}, "mark": {"type": "line", "color": "#0000ff", "strokeWidth": 1.1, "strokeDash": [3, 2], "interpolate": "monotone"}, "encoding": {"x": {"field": "e"}, "y": {"field": "v"}}},
      {"data": {"values": [{}]}, "mark": {"type": "text", "text": "JDOS(ε)", "angle": 270, "align": "left", "baseline": "alphabetic", "fontSize": 16.5}, "encoding": {"x": {"datum": -0.017}, "y": {"datum": 0.99}}},
      {"data": {"values": [{}]}, "mark": {"type": "text", "text": ", arb. units", "angle": 270, "align": "left", "baseline": "alphabetic", "fontSize": 9.5}, "encoding": {"x": {"datum": -0.017}, "y": {"datum": 1.66}}},
      {"data": {"values": [{}]}, "mark": {"type": "text", "text": "σ(ε )", "angle": 270, "align": "center", "baseline": "middle", "fontSize": 19}, "encoding": {"x": {"datum": -0.09}, "y": {"datum": 0.52}}}
     ]}]}
  ], "spacing": 18}
 ], "spacing": 28}
],
"spacing": 37,
"config": {
 "font": "Liberation Sans",
 "view": {"stroke": "#a6a6a6", "strokeWidth": 1},
 "axisX": {"domain": false, "grid": false, "ticks": false, "labelFontSize": 13, "labelColor": "black", "labelPadding": 4, "labelFlush": false, "titleFontSize": 17, "titleFontWeight": "normal", "titleColor": "black", "titlePadding": 4},
 "title": {"fontSize": 17.5, "fontWeight": "normal", "color": "black"}
}
}
